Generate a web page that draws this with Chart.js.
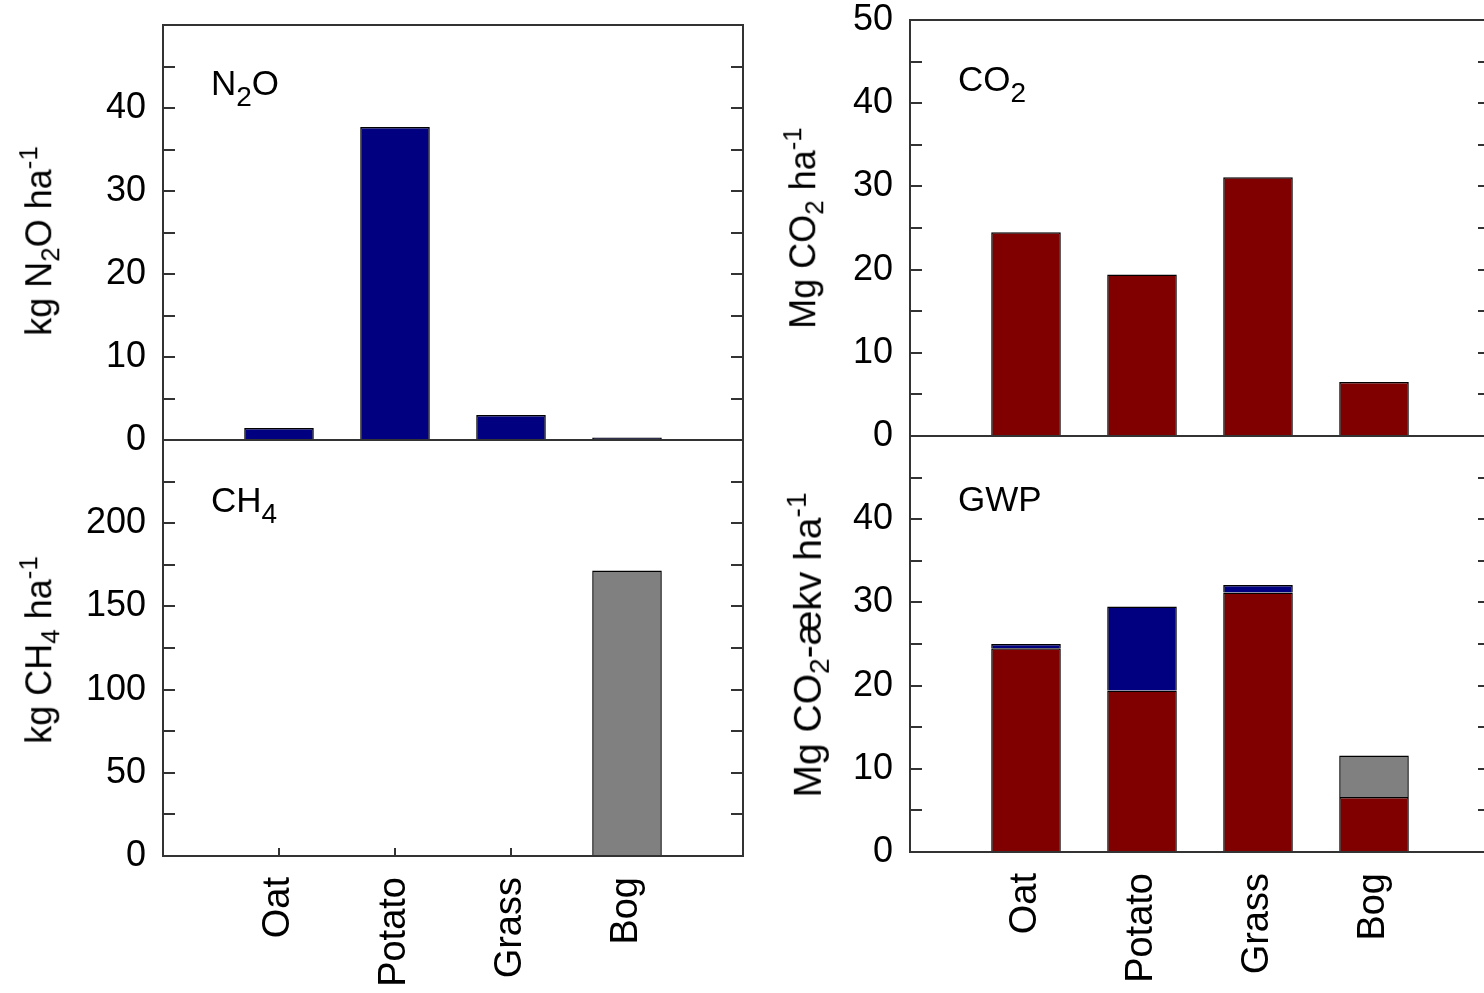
<!DOCTYPE html>
<html>
<head>
<meta charset="utf-8">
<script src="https://cdn.jsdelivr.net/npm/chart.js@4.4.1/dist/chart.umd.min.js"></script>
<style>
  html, body { margin: 0; padding: 0; background: #fff; overflow: hidden; width: 1484px; height: 993px; }
  body { position: relative; font-family: "Liberation Sans", Arial, sans-serif; color: #000; }
  canvas { position: absolute; }
  .lbl { position: absolute; font-size: 35px; line-height: 35px; white-space: nowrap; }
  .lbl .sub { font-size: 0.8em; vertical-align: -0.38em; }
  .ytitle { position: absolute; font-size: 36px; line-height: 36px; white-space: nowrap;
            transform: translate(-50%, -50%) rotate(-90deg); }
  .ytitle .sub { font-size: 0.72em; vertical-align: -0.28em; }
  .ytitle .sup { font-size: 0.72em; vertical-align: 0.55em; }
</style>
</head>
<body>
<canvas id="n2oChart" width="760" height="470" style="left:0;top:0"></canvas>
<canvas id="co2Chart" width="740" height="470" style="left:760px;top:0"></canvas>
<canvas id="ch4Chart" width="760" height="573" style="left:0;top:420px"></canvas>
<canvas id="gwpChart" width="740" height="573" style="left:760px;top:420px"></canvas>

<div class="lbl" style="left:211px;top:65px">N<span class="sub">2</span>O</div>
<div class="lbl" style="left:211px;top:482px">CH<span class="sub">4</span></div>
<div class="lbl" style="left:958px;top:61px">CO<span class="sub">2</span></div>
<div class="lbl" style="left:958px;top:481px">GWP</div>

<div class="ytitle" style="left:39px;top:241px">kg N<span class="sub">2</span>O ha<span class="sup">-1</span></div>
<div class="ytitle" style="left:39px;top:650px">kg CH<span class="sub">4</span> ha<span class="sup">-1</span></div>
<div class="ytitle" style="left:803px;top:228px">Mg CO<span class="sub">2</span> ha<span class="sup">-1</span></div>
<div class="ytitle" style="left:808px;top:645px;font-size:39px;line-height:39px">Mg CO<span class="sub">2</span>-ækv ha<span class="sup">-1</span></div>

<script>
const categories = ['Oat', 'Potato', 'Grass', 'Bog'];

// emissions per gas
const n2oValues = [1.45, 37.7, 3.0, 0.3];      // kg N2O/ha
const ch4Values = [0, 0, 0, 171.5];            // kg CH4/ha
const co2Values = [24.5, 19.4, 31.1, 6.5];     // Mg CO2/ha

// GWP stack, Mg CO2-eq/ha
const gwpCo2 = [24.5, 19.4, 31.2, 6.6];
const gwpN2o = [0.5, 10.1, 0.9, 0];
const gwpCh4 = [0, 0, 0, 5.0];

// which y values get a printed label
const n2oTickLabels = [0, 10, 20, 30, 40];
const ch4TickLabels = [0, 50, 100, 150, 200];
const co2TickLabels = [0, 10, 20, 30, 40, 50];
const gwpTickLabels = [0, 10, 20, 30, 40];

const NAVY = '#000080', MAROON = '#800000', GREY = '#808080';
const FONT = '"Liberation Sans", Arial, sans-serif';

// empty slot on each side so the bars sit at 1..4 of 0..5
const xLabels = ['', ...categories, ''];
const pad = arr => [null, ...arr, null];

const framePlugin = {
    id: 'frame',
    beforeDatasetsDraw(chart, args, opts) {
        const { ctx, chartArea: a, scales } = chart;
        ctx.save();
        ctx.strokeStyle = '#333';
        ctx.lineWidth = 2;
        ctx.beginPath();
        scales.y.ticks.forEach(t => {
            const y = Math.round(scales.y.getPixelForValue(t.value));
            ctx.moveTo(a.left, y); ctx.lineTo(a.left + 12, y);
            ctx.moveTo(a.right - 12, y); ctx.lineTo(a.right, y);
        });
        if (opts.xTicks) {
            categories.forEach((c, i) => {
                const x = Math.round(scales.x.getPixelForValue(i + 1));
                ctx.moveTo(x, a.bottom); ctx.lineTo(x, a.bottom - 8);
            });
        }
        ctx.stroke();
        ctx.restore();
    },
    afterDraw(chart) {
        const { ctx, chartArea: a } = chart;
        ctx.save();
        ctx.strokeStyle = '#333';
        ctx.lineWidth = 2;
        ctx.strokeRect(a.left, a.top, a.right - a.left, a.bottom - a.top);
        ctx.restore();
    }
};

function bar(values, color) {
    return {
        data: pad(values),
        backgroundColor: color,
        borderColor: '#000',
        borderWidth: 1.5,
        barPercentage: 0.6,
        categoryPercentage: 1
    };
}

function makePanel(id, cfg) {
    return new Chart(document.getElementById(id), {
        type: 'bar',
        data: { labels: xLabels, datasets: cfg.datasets },
        options: {
            responsive: false,
            animation: false,
            devicePixelRatio: 1,
            layout: { padding: cfg.padding },
            plugins: {
                legend: { display: false },
                tooltip: { enabled: false },
                frame: { xTicks: cfg.showX }
            },
            scales: {
                x: {
                    stacked: true,
                    offset: false,
                    grid: { display: false, drawTicks: false },
                    border: { display: false },
                    ticks: {
                        display: cfg.showX,
                        autoSkip: false,
                        minRotation: 90,
                        maxRotation: 90,
                        padding: 21,
                        color: '#000',
                        font: { family: FONT, size: 38 }
                    },
                    afterFit: s => {
                        s.height = cfg.xHeight;
                        s.paddingLeft = 0; s.paddingRight = 0;
                    }
                },
                y: {
                    stacked: true,
                    min: 0,
                    max: cfg.max,
                    grid: { display: false, drawTicks: false },
                    border: { display: false },
                    ticks: {
                        stepSize: cfg.step,
                        autoSkip: false,
                        padding: 17,
                        color: '#000',
                        font: { family: FONT, size: 36 },
                        callback: v => cfg.tickLabels.includes(v) ? v : ''
                    },
                    afterFit: s => {
                        s.width = cfg.yWidth;
                        s.paddingTop = 0; s.paddingBottom = 0;
                    }
                }
            }
        },
        plugins: [framePlugin]
    });
}

makePanel('n2oChart', {
    datasets: [bar(n2oValues, NAVY)],
    max: 50, step: 5, tickLabels: n2oTickLabels,
    padding: { top: 25, right: 17, left: 0, bottom: 0 },
    yWidth: 163, xHeight: 30, showX: false
});

makePanel('co2Chart', {
    datasets: [bar(co2Values, MAROON)],
    max: 50, step: 5, tickLabels: co2TickLabels,
    padding: { top: 20, right: 10, left: 0, bottom: 0 },
    yWidth: 150, xHeight: 34, showX: false
});

makePanel('ch4Chart', {
    datasets: [bar(ch4Values, GREY)],
    max: 250, step: 25, tickLabels: ch4TickLabels,
    padding: { top: 20, right: 17, left: 0, bottom: 0 },
    yWidth: 163, xHeight: 137, showX: true
});

makePanel('gwpChart', {
    datasets: [bar(gwpCo2, MAROON), bar(gwpN2o, NAVY), bar(gwpCh4, GREY)],
    max: 50, step: 5, tickLabels: gwpTickLabels,
    padding: { top: 16, right: 10, left: 0, bottom: 0 },
    yWidth: 150, xHeight: 141, showX: true
});
</script>
</body>
</html>
